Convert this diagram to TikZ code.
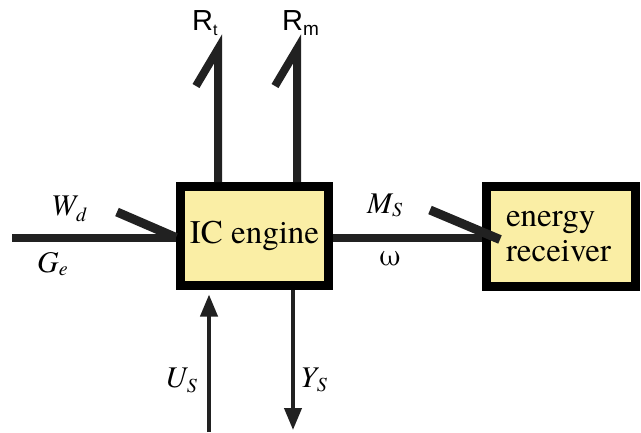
\documentclass[tikz,border=0pt]{standalone}
\usepackage{fontspec}
\setmainfont{TeX Gyre Termes}
\newfontfamily\timesf{TeX Gyre Termes}
\newfontfamily\arialf{Liberation Sans}
\usetikzlibrary{arrows.meta}
\definecolor{boxyellow}{RGB}{250,238,165}
\newcommand{\mysub}[2][-6pt]{\raisebox{#1}{\fontsize{20}{20}\selectfont #2}}
\begin{document}
\begin{tikzpicture}[x=1pt,y=-1pt,
  block/.style={draw=black, line width=9pt, fill=boxyellow, inner sep=0pt},
  wire/.style={line width=8pt, draw=black!87},
  slash/.style={line width=9pt, draw=black!87},
  harpoon/.style={line width=8pt, draw=black!87, line join=miter, miter limit=20},
  thinarrow/.style={line width=4pt, draw=black!87, -{Triangle[length=22pt,width=17pt]}},
  lbl/.style={inner sep=0pt, anchor=base west, font=\fontsize{30}{32}\timesf\itshape},
  rlbl/.style={inner sep=0pt, anchor=base west, font=\fontsize{29}{30}\arialf}]
\useasboundingbox (0,0) rectangle (641,432);
\fill[white] (0,0) rectangle (641,432);

\node[block, minimum width=148pt, minimum height=99pt, font=\fontsize{33}{36}\timesf] (engine) at (254.5,236) {IC engine};
\node[block, minimum width=149pt, minimum height=100pt, text width=110pt, align=left, font=\fontsize{33}{35}\timesf] (recv) at (561,236.5) {energy\\receiver};

% input on the left
\coordinate (inL) at (12,237.5);
\coordinate (wdS) at (117,212);
\draw[wire] (inL) -- (inL -| engine.west);
\draw[slash] (wdS) -- (inL -| engine.west);

% engine to receiver
\coordinate (msS) at (430,210);
\coordinate (msT) at (500,239.5);
\draw[wire] (engine.east |- inL) -- (recv.west |- inL);
\draw[slash] (msS) -- (msT);

% outputs at the top
\coordinate (rtT) at (218,49);
\coordinate (rtS) at (196,86);
\coordinate (rmT) at (297,49);
\coordinate (rmS) at (275,86);
\draw[harpoon] (rtS) -- (rtT) -- (rtT |- engine.north);
\draw[harpoon] (rmS) -- (rmT) -- (rmT |- engine.north);

% bottom arrows
\coordinate (usB) at (209,432);
\coordinate (ysB) at (293,430);
\draw[thinarrow, shorten >=4.5pt] (usB) -- (usB |- engine.south);
\draw[thinarrow] (ysB |- engine.south) -- (ysB);

% labels
\node[lbl] (wd) at (51,215) {W\mysub{d}};
\node[lbl] (ge) at (37,272) {G\mysub[-3pt]{e}};
\node[lbl] (ms) at (367,213) {M\mysub[-3pt]{S}};
\node[inner sep=0pt, anchor=base west, font=\fontsize{31}{32}\timesf] (om) at (379,265) {ω};
\node[lbl] (us) at (165,387) {U\mysub[-5pt]{S}};
\node[lbl] (ys) at (300,387) {Y\mysub[-4pt]{S}};
\node[rlbl] (rt) at (192,30) {R\raisebox{-5pt}{\fontsize{16}{16}\selectfont t}};
\node[rlbl] (rm) at (282,30) {R\raisebox{-5pt}{\fontsize{19}{19}\selectfont m}};
\end{tikzpicture}
\end{document}
